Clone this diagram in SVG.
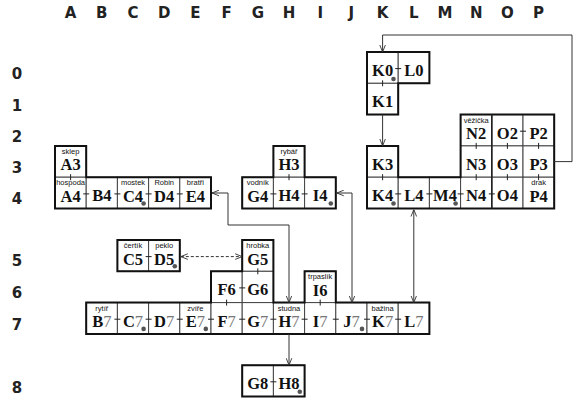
<svg xmlns="http://www.w3.org/2000/svg" width="576" height="403" viewBox="0 0 576 403">
<style>
.bg{fill:#fff}
.cell{fill:#fff;stroke:#444;stroke-width:1}
.outline{fill:none;stroke:#111;stroke-width:2;stroke-linejoin:miter}
.tick{stroke:#222;stroke-width:1}
.lbl{font-family:"Liberation Serif","Times New Roman",serif;font-weight:bold;font-size:16.5px;fill:#111;text-anchor:middle}
.lt{font-weight:normal;fill:#777}
.sm{font-family:"Liberation Sans",Arial,sans-serif;font-size:7.5px;fill:#111;text-anchor:middle}
.dot{fill:#555}
.axis{font-family:"DejaVu Sans",Verdana,sans-serif;font-weight:bold;font-size:15px;fill:#222;text-anchor:middle}
.con{fill:none;stroke:#333;stroke-width:1}
.dash{stroke-dasharray:3 2}
</style>
<defs>
<marker id="ah" viewBox="0 0 10 10" refX="10" refY="5" markerWidth="7" markerHeight="7" markerUnits="userSpaceOnUse" orient="auto-start-reverse">
<path d="M0,1 L10,5 L0,9" fill="none" stroke="#333" stroke-width="1.3"/>
</marker>
</defs>
<rect class="bg" x="0" y="0" width="576" height="403"/>
<g id="axes">
<text class="axis" x="70.6" y="18">A</text><text class="axis" x="101.8" y="18">B</text><text class="axis" x="133" y="18">C</text><text class="axis" x="164.2" y="18">D</text><text class="axis" x="195.4" y="18">E</text><text class="axis" x="226.6" y="18">F</text><text class="axis" x="257.8" y="18">G</text><text class="axis" x="289" y="18">H</text><text class="axis" x="320.2" y="18">I</text><text class="axis" x="351.4" y="18">J</text><text class="axis" x="382.6" y="18">K</text><text class="axis" x="413.8" y="18">L</text><text class="axis" x="445" y="18">M</text><text class="axis" x="476.2" y="18">N</text><text class="axis" x="507.4" y="18">O</text><text class="axis" x="538.6" y="18">P</text>
<text class="axis" x="17" y="78.5">0</text><text class="axis" x="17" y="110.5">1</text><text class="axis" x="17" y="141.5">2</text><text class="axis" x="17" y="172.5">3</text><text class="axis" x="17" y="203.5">4</text><text class="axis" x="17" y="265.5">5</text><text class="axis" x="17" y="297.5">6</text><text class="axis" x="17" y="329.5">7</text><text class="axis" x="17" y="392.5">8</text>
</g>

<g id="K0"><rect class="cell" x="367" y="52" width="31.2" height="31.3"/><text class="lbl" x="382.6" y="76">K0</text><circle class="dot" cx="393.5" cy="79" r="2.3"/></g>
<g id="L0"><rect class="cell" x="398.2" y="52" width="31.2" height="31.3"/><text class="lbl" x="413.8" y="76">L0</text></g>
<g id="K1"><rect class="cell" x="367" y="83.3" width="31.2" height="31.3"/><text class="lbl" x="382.6" y="107.3">K1</text></g>
<g id="N2"><rect class="cell" x="460.6" y="114.6" width="31.2" height="31.3"/><text class="sm" x="476.2" y="122.6">věžička</text><text class="lbl" x="476.2" y="139.1">N2</text></g>
<g id="O2"><rect class="cell" x="491.8" y="114.6" width="31.2" height="31.3"/><text class="lbl" x="507.4" y="138.6">O2</text></g>
<g id="P2"><rect class="cell" x="523" y="114.6" width="31.2" height="31.3"/><text class="lbl" x="538.6" y="138.6">P2</text></g>
<g id="A3"><rect class="cell" x="55" y="145.9" width="31.2" height="31.3"/><text class="sm" x="70.6" y="153.9">sklep</text><text class="lbl" x="70.6" y="170.4">A3</text></g>
<g id="H3"><rect class="cell" x="273.4" y="145.9" width="31.2" height="31.3"/><text class="sm" x="289" y="153.9">rybář</text><text class="lbl" x="289" y="170.4">H3</text></g>
<g id="K3"><rect class="cell" x="367" y="145.9" width="31.2" height="31.3"/><text class="lbl" x="382.6" y="169.9">K3</text></g>
<g id="N3"><rect class="cell" x="460.6" y="145.9" width="31.2" height="31.3"/><text class="lbl" x="476.2" y="169.9">N3</text></g>
<g id="O3"><rect class="cell" x="491.8" y="145.9" width="31.2" height="31.3"/><text class="lbl" x="507.4" y="169.9">O3</text></g>
<g id="P3"><rect class="cell" x="523" y="145.9" width="31.2" height="31.3"/><text class="lbl" x="538.6" y="169.9">P3</text></g>
<g id="A4"><rect class="cell" x="55" y="177.2" width="31.2" height="31.3"/><text class="sm" x="70.6" y="185.2">hospoda</text><text class="lbl" x="70.6" y="201.7">A4</text></g>
<g id="B4"><rect class="cell" x="86.2" y="177.2" width="31.2" height="31.3"/><text class="lbl" x="101.8" y="201.2">B4</text></g>
<g id="C4"><rect class="cell" x="117.4" y="177.2" width="31.2" height="31.3"/><text class="sm" x="133" y="185.2">mostek</text><text class="lbl" x="133" y="201.7">C4</text><circle class="dot" cx="143.6" cy="203.5" r="2.3"/></g>
<g id="D4"><rect class="cell" x="148.6" y="177.2" width="31.2" height="31.3"/><text class="sm" x="164.2" y="185.2">Robin</text><text class="lbl" x="164.2" y="201.7">D4</text></g>
<g id="E4"><rect class="cell" x="179.8" y="177.2" width="31.2" height="31.3"/><text class="sm" x="195.4" y="185.2">bratři</text><text class="lbl" x="195.4" y="201.7">E4</text></g>
<g id="G4"><rect class="cell" x="242.2" y="177.2" width="31.2" height="31.3"/><text class="sm" x="257.8" y="185.2">vodník</text><text class="lbl" x="257.8" y="201.7">G4</text></g>
<g id="H4"><rect class="cell" x="273.4" y="177.2" width="31.2" height="31.3"/><text class="lbl" x="289" y="201.2">H4</text></g>
<g id="I4"><rect class="cell" x="304.6" y="177.2" width="31.2" height="31.3"/><text class="lbl" x="320.2" y="201.2">I4</text><circle class="dot" cx="330.8" cy="203.5" r="2.3"/></g>
<g id="K4"><rect class="cell" x="367" y="177.2" width="31.2" height="31.3"/><text class="lbl" x="382.6" y="201.2">K4</text><circle class="dot" cx="393.5" cy="203.5" r="2.3"/></g>
<g id="L4"><rect class="cell" x="398.2" y="177.2" width="31.2" height="31.3"/><text class="lbl" x="413.8" y="201.2">L4</text></g>
<g id="M4"><rect class="cell" x="429.4" y="177.2" width="31.2" height="31.3"/><text class="lbl" x="445" y="201.2">M4</text><circle class="dot" cx="455.6" cy="203.5" r="2.3"/></g>
<g id="N4"><rect class="cell" x="460.6" y="177.2" width="31.2" height="31.3"/><text class="lbl" x="476.2" y="201.2">N4</text></g>
<g id="O4"><rect class="cell" x="491.8" y="177.2" width="31.2" height="31.3"/><text class="lbl" x="507.4" y="201.2">O4</text></g>
<g id="P4"><rect class="cell" x="523" y="177.2" width="31.2" height="31.3"/><text class="sm" x="538.6" y="185.2">drak</text><text class="lbl" x="538.6" y="201.7">P4</text></g>
<g id="C5"><rect class="cell" x="117.4" y="240" width="31.2" height="31.3"/><text class="sm" x="133" y="248">čertík</text><text class="lbl" x="133" y="264.5">C5</text></g>
<g id="D5"><rect class="cell" x="148.6" y="240" width="31.2" height="31.3"/><text class="sm" x="164.2" y="248">peklo</text><text class="lbl" x="164.2" y="264.5">D5</text><circle class="dot" cx="174.8" cy="266.3" r="2.3"/></g>
<g id="G5"><rect class="cell" x="242.2" y="240" width="31.2" height="31.3"/><text class="sm" x="257.8" y="248">hrobka</text><text class="lbl" x="257.8" y="264.5">G5</text></g>
<g id="F6"><rect class="cell" x="211" y="271.3" width="31.2" height="31.3"/><text class="lbl" x="226.6" y="295.3">F6</text></g>
<g id="G6"><rect class="cell" x="242.2" y="271.3" width="31.2" height="31.3"/><text class="lbl" x="257.8" y="295.3">G6</text></g>
<g id="I6"><rect class="cell" x="304.6" y="271.3" width="31.2" height="31.3"/><text class="sm" x="320.2" y="279.3">trpaslík</text><text class="lbl" x="320.2" y="295.8">I6</text></g>
<g id="B7"><rect class="cell" x="86.2" y="302.6" width="31.2" height="31.3"/><text class="sm" x="101.8" y="310.6">rytíř</text><text class="lbl" x="101.8" y="327.1">B<tspan class="lt">7</tspan></text></g>
<g id="C7"><rect class="cell" x="117.4" y="302.6" width="31.2" height="31.3"/><text class="lbl" x="133" y="326.6">C<tspan class="lt">7</tspan></text><circle class="dot" cx="143.6" cy="328.9" r="2.3"/></g>
<g id="D7"><rect class="cell" x="148.6" y="302.6" width="31.2" height="31.3"/><text class="lbl" x="164.2" y="326.6">D<tspan class="lt">7</tspan></text></g>
<g id="E7"><rect class="cell" x="179.8" y="302.6" width="31.2" height="31.3"/><text class="sm" x="195.4" y="310.6">zvíře</text><text class="lbl" x="195.4" y="327.1">E<tspan class="lt">7</tspan></text><circle class="dot" cx="205.8" cy="328.9" r="2.3"/></g>
<g id="F7"><rect class="cell" x="211" y="302.6" width="31.2" height="31.3"/><text class="lbl" x="226.6" y="326.6">F<tspan class="lt">7</tspan></text></g>
<g id="G7"><rect class="cell" x="242.2" y="302.6" width="31.2" height="31.3"/><text class="lbl" x="257.8" y="326.6">G<tspan class="lt">7</tspan></text></g>
<g id="H7"><rect class="cell" x="273.4" y="302.6" width="31.2" height="31.3"/><text class="sm" x="289" y="310.6">studna</text><text class="lbl" x="289" y="327.1">H<tspan class="lt">7</tspan></text></g>
<g id="I7"><rect class="cell" x="304.6" y="302.6" width="31.2" height="31.3"/><text class="lbl" x="320.2" y="326.6">I<tspan class="lt">7</tspan></text></g>
<g id="J7"><rect class="cell" x="335.8" y="302.6" width="31.2" height="31.3"/><text class="lbl" x="351.4" y="326.6">J<tspan class="lt">7</tspan></text><circle class="dot" cx="362" cy="328.9" r="2.3"/></g>
<g id="K7"><rect class="cell" x="367" y="302.6" width="31.2" height="31.3"/><text class="sm" x="382.6" y="310.6">bažina</text><text class="lbl" x="382.6" y="327.1">K<tspan class="lt">7</tspan></text></g>
<g id="L7"><rect class="cell" x="398.2" y="302.6" width="31.2" height="31.3"/><text class="lbl" x="413.8" y="326.6">L<tspan class="lt">7</tspan></text></g>
<g id="G8"><rect class="cell" x="242.2" y="365.2" width="31.2" height="31.3"/><text class="lbl" x="257.8" y="389.2">G8</text></g>
<g id="H8"><rect class="cell" x="273.4" y="365.2" width="31.2" height="31.3"/><text class="lbl" x="289" y="389.2">H8</text><circle class="dot" cx="299.8" cy="391.7" r="2.3"/></g>

<g id="outlines">
<path class="outline" d="M55,145.9 H86.2 V177.2 H211 V208.5 H55 Z"/>
<path class="outline" d="M273.4,145.9 H304.6 V177.2 H335.8 V208.5 H242.2 V177.2 H273.4 Z"/>
<path class="outline" d="M367,52 H429.4 V83.3 H398.2 V114.6 H367 Z"/>
<path class="outline" d="M367,145.9 H398.2 V177.2 H460.6 V114.6 H554.2 V208.5 H367 Z"/>
<line x1="491.8" y1="114.6" x2="491.8" y2="208.5" stroke="#222" stroke-width="1.6"/>
<path class="outline" d="M117.4,240 H179.8 V271.3 H117.4 Z"/>
<path class="outline" d="M86.2,302.6 H211 V271.3 H242.2 V240 H273.4 V302.6 H304.6 V271.3 H335.8 V302.6 H429.4 V333.9 H86.2 Z"/>
<path class="outline" d="M242.2,365.2 H304.6 V396.5 H242.2 Z"/>
</g>

<g id="passages" class="tick">
<path d="M395.2,68.6 h6 M83.2,193.9 h6 M114.4,193.9 h6 M145.6,193.9 h6 M176.8,193.9 h6 M270.4,193.9 h6 M301.6,193.9 h6 M395.2,193.9 h6 M426.4,193.9 h6 M457.6,193.9 h6 M488.8,193.9 h6 M520,131.2 h6 M145.6,256.6 h6 M239.2,287.9 h6 M114.4,319.2 h6 M145.6,319.2 h6 M176.8,319.2 h6 M208,319.2 h6 M239.2,319.2 h6 M270.4,319.2 h6 M301.6,319.2 h6 M332.8,319.2 h6 M364,319.2 h6 M395.2,319.2 h6 M270.4,381.8 h6"/>
<path d="M382.6,80.3 v6 M70.6,174.2 v6 M289,174.2 v6 M382.6,174.2 v6 M476.2,142.9 v6 M476.2,174.2 v6 M507.4,142.9 v6 M507.4,174.2 v6 M538.6,142.9 v6 M538.6,174.2 v6 M257.8,268.3 v6 M226.6,299.6 v6 M320.2,299.6 v6"/>
</g>

<g id="connectors">
<path class="con" d="M554.2,161.6 H572 V35 H382.6 V52" marker-end="url(#ah)"/>
<path class="con" d="M382.6,114.6 V145.9" marker-end="url(#ah)"/>
<path class="con" d="M212,193 H228 V225 H289 V302.6" marker-start="url(#ah)" marker-end="url(#ah)"/>
<path class="con" d="M336.8,193 H352 V302.6" marker-start="url(#ah)" marker-end="url(#ah)"/>
<path class="con" d="M413.8,209.5 V302.6" marker-start="url(#ah)" marker-end="url(#ah)"/>
<path class="con dash" d="M180.8,256.6 H242.2" marker-start="url(#ah)" marker-end="url(#ah)"/>
<path class="con" d="M289,333.9 V365.2" marker-end="url(#ah)"/>
</g>
</svg>
